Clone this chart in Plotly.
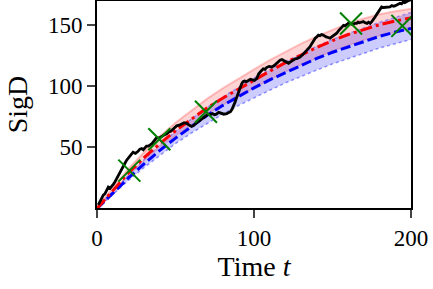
import plotly.graph_objects as go

t_grid = [0, 10, 20, 30, 40, 50, 60, 70, 80, 90, 100, 110, 120, 130, 140, 150, 160, 170, 180, 190, 200]
red_mean = [0, 14.5, 29, 41.5, 53, 63.5, 73, 82, 90, 97.5, 105, 112, 119, 125.5, 131.5, 137, 142, 146, 150, 153, 155.5]
red_hi = [1, 16.5, 32.5, 46, 59, 70, 80, 89.5, 98, 106, 113.5, 121, 128, 134.5, 140.5, 146, 151, 155, 158.5, 161, 163]
red_lo = [0, 13.5, 27, 39, 50, 59.5, 68.5, 77, 84.5, 91.5, 98.5, 105, 111.5, 117.5, 123, 128.5, 133, 137.5, 141, 144, 146.5]
blue_mean = [0, 12.5, 25, 36.5, 47.5, 57.5, 67, 76, 84, 91.5, 98.5, 105, 111, 117, 122.5, 127.5, 132, 136.5, 140.5, 144, 147]
blue_hi = [1, 14, 27.5, 40, 52, 63, 73, 82.5, 91, 99, 106.5, 113.5, 120, 126.5, 132.5, 138, 143, 147.5, 152, 156, 160]
blue_lo = [0, 11.5, 23, 33.5, 43.5, 53, 61.5, 69.5, 77, 84, 90.5, 96.5, 102.5, 108, 113, 118, 122.5, 127, 131, 134.5, 138]

obs_t = [0.8, 2, 3, 4, 5, 6, 7.2, 8.3, 9.4, 10.5, 11.5, 12.5, 13.3, 14, 15, 15.7, 16.8, 17.8, 18.9, 19.7, 20.5,
         21.7, 23, 24.5, 26, 27.3, 28.5, 29.5, 30.5, 31.5, 32.7, 34, 35, 36.5, 38, 39.5, 41, 42.7,
         44.4, 45.7, 47, 49, 50.8, 52.4, 54, 55.5, 57, 58, 59, 60.2, 61.3, 62.4, 63.5, 64.5, 65.6, 66.8, 68, 69.5,
         70.9, 72.2, 73.5, 74.8, 76, 77.5, 79, 80.8, 82.6, 83.8, 85, 86, 86.8, 87.4, 88, 88.5, 89, 89.8, 90.5,
         91.3, 92.2, 93, 94, 95.2, 96.4, 97.7, 99, 100.3, 101.7, 102.3, 103, 104.4, 105.9, 107, 108, 109.6, 111.3,
         112.7, 114, 115.3, 116.6, 117.8, 119, 120, 121, 122, 123, 124.5, 126, 127.6, 129.3, 130.6, 132, 133.8,
         135.7, 136.8, 138, 139, 140, 141, 142, 143, 144, 145, 146, 147.2, 148.4, 149.5, 150.5, 151.6, 152.7,
         153.8, 155, 156, 157, 158, 159, 160, 161, 162, 163, 164.2, 165.4, 166.2, 167, 168.3, 169.6, 170.8,
         172, 173, 174, 175, 176, 177, 178, 179, 180, 180.6, 181.3, 182.6, 184, 185.3, 186.6, 187.8, 189, 190,
         191, 192, 193, 194, 195, 196, 197, 198.2, 199.4, 200]
obs_y = [3, 6, 8, 11, 12, 15, 17.5, 16.5, 18, 20, 22, 24.5, 26, 28.5, 30, 33, 35, 37, 39.5, 41, 42.5,
         44, 46, 45, 46.5, 48.5, 49, 48, 49.5, 51, 51, 52, 53, 55.5, 58, 57.5, 59, 60,
         61, 62.5, 63, 65, 67.5, 68, 69, 70, 69.5, 68.5, 68, 67, 67.5, 69, 70, 71, 72, 73, 74, 75.5,
         77, 76.5, 77.5, 76.5, 77, 78.5, 78, 77, 77.5, 78, 79, 81, 83, 85, 87, 89, 91, 94, 97,
         99, 102, 103.5, 104, 103.5, 104.5, 105.5, 105, 104.5, 106, 108, 110, 112, 114, 113.5, 115, 116, 115.5,
         116.5, 118, 119.5, 121, 121.5, 120.5, 119.5, 119, 118.5, 119.5, 121, 122, 122.5, 123.5, 125, 127, 129.5,
         132, 134.5, 137, 139, 140, 141.5, 141, 142, 141.5, 140.5, 140, 139.5, 139, 140, 141, 142, 143,
         145, 147, 148.5, 149.5, 149, 150, 151, 151, 150.5, 150, 151, 151, 152, 151.5, 152, 152.5, 151.5,
         151, 152, 151, 152.5, 154, 156, 158, 160, 162, 163.5, 164.5, 164, 164, 164.5, 164.5, 165.5, 165, 165.5,
         166, 167, 167.5, 167, 168.5, 168, 169, 169.5, 170, 171]

mark_t = [20.6, 39.7, 69.4, 161.8, 194.5]
mark_y = [31, 56.5, 79, 151, 149]

fig = go.Figure()

# red band
fig.add_trace(go.Scatter(x=t_grid, y=red_lo, mode="lines", line=dict(color="rgba(255,0,0,0.15)", width=1.5),
                         showlegend=False, hoverinfo="skip"))
fig.add_trace(go.Scatter(x=t_grid, y=red_hi, mode="lines", fill="tonexty", fillcolor="rgba(255,0,0,0.17)",
                         line=dict(color="rgba(255,0,0,0.22)", width=2), showlegend=False, hoverinfo="skip"))
# blue band
fig.add_trace(go.Scatter(x=t_grid, y=blue_lo, mode="lines", line=dict(color="rgba(0,0,255,0.4)", width=1.5, dash="dot"),
                         showlegend=False, hoverinfo="skip"))
fig.add_trace(go.Scatter(x=t_grid, y=blue_hi, mode="lines", fill="tonexty", fillcolor="rgba(0,0,255,0.2)",
                         line=dict(color="rgba(0,0,255,0.3)", width=1.5, dash="dot"), showlegend=False, hoverinfo="skip"))

fig.add_trace(go.Scatter(x=t_grid, y=blue_mean, mode="lines", line=dict(color="#0000ff", width=3, dash="10px,4px"),
                         showlegend=False))
fig.add_trace(go.Scatter(x=t_grid, y=red_mean, mode="lines", line=dict(color="#ff0000", width=3, dash="12px,4px,3px,4px"),
                         showlegend=False))
fig.add_trace(go.Scatter(x=obs_t, y=obs_y, mode="lines", line=dict(color="black", width=2.8), showlegend=False))
fig.add_trace(go.Scatter(x=mark_t, y=mark_y, mode="markers",
                         marker=dict(symbol="x-thin", size=22, line=dict(color="#008000", width=2)),
                         showlegend=False))

font = dict(family="Liberation Serif, DejaVu Serif, serif", size=23, color="black")
fig.update_layout(
    width=433, height=289,
    margin=dict(l=97, r=22, t=1, b=81),
    paper_bgcolor="white", plot_bgcolor="white",
    font=font,
)
fig.update_xaxes(range=[0, 200], tickvals=[0, 100, 200], ticks="outside", ticklen=8, tickwidth=1.5,
                 showline=True, linewidth=2, linecolor="black", mirror=True, showgrid=False, zeroline=False,
                 automargin=False, title=dict(text="Time <i>t</i>", standoff=6), tickfont=font)
fig.update_yaxes(range=[0.5, 169.3], tickvals=[50, 100, 150], ticks="outside", ticklen=8, tickwidth=1.5,
                 showline=True, linewidth=2, linecolor="black", mirror=True, showgrid=False, zeroline=False,
                 automargin=False, title=dict(text="SigD", standoff=12), tickfont=font)

fig.write_html("out.html", config={"displayModeBar": False},
               post_script="document.body.style.margin='0';")
